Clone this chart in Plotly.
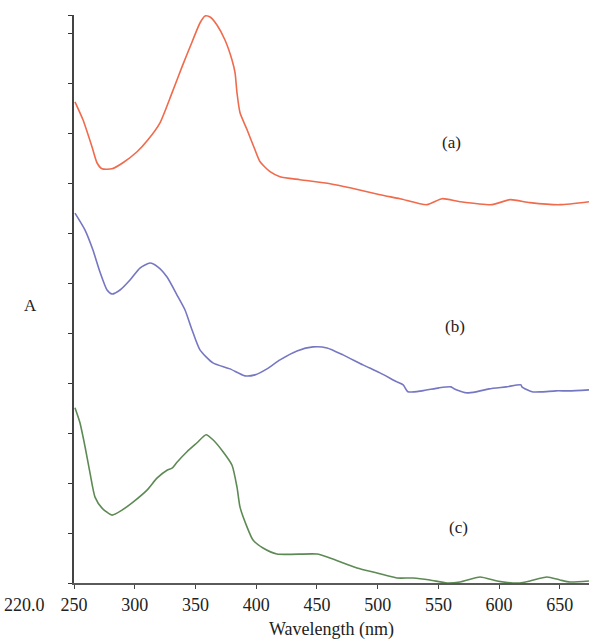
import plotly.graph_objects as go

# Curve (a)
wl_a = [250.8, 257.4, 264.8, 268.9, 273.1, 281.3, 290.3, 301.9, 310.9, 320.8, 330.7, 338.9,
        347.2, 353.7, 357.9, 362.0, 367.7, 374.3, 380.1, 382.6, 384.2, 386.7, 392.5, 399.0,
        403.2, 411.4, 419.6, 436.1, 460.8, 477.2, 501.9, 518.4, 540.6, 553.0, 567.8, 594.1,
        609.0, 625.4, 650.1, 674.0]
abs_a = [0.964, 0.928, 0.874, 0.842, 0.830, 0.830, 0.842, 0.864, 0.888, 0.922, 0.982, 1.034,
         1.084, 1.122, 1.136, 1.134, 1.118, 1.088, 1.048, 1.022, 0.982, 0.942, 0.908, 0.868,
         0.844, 0.824, 0.814, 0.808, 0.800, 0.792, 0.778, 0.770, 0.758, 0.770, 0.764, 0.758,
         0.768, 0.762, 0.758, 0.764]

# Curve (b)
wl_b = [250.8, 259.1, 265.6, 271.4, 277.2, 281.3, 287.9, 296.1, 304.3, 312.6, 319.2, 326.6,
        334.8, 341.4, 347.2, 353.7, 364.4, 378.4, 390.8, 399.0, 408.9, 419.6, 433.6, 446.8,
        458.3, 471.5, 487.9, 501.9, 515.9, 521.0, 525.0, 536.5, 550.5, 560.4, 562.9, 572.7,
        581.0, 591.7, 605.7, 618.0, 618.8, 627.1, 635.3, 646.8, 657.5, 674.0]
abs_b = [0.741, 0.707, 0.667, 0.623, 0.587, 0.579, 0.587, 0.607, 0.631, 0.641, 0.633, 0.613,
         0.577, 0.547, 0.507, 0.467, 0.441, 0.429, 0.415, 0.417, 0.429, 0.447, 0.465, 0.473,
         0.471, 0.457, 0.437, 0.421, 0.403, 0.397, 0.383, 0.385, 0.391, 0.393, 0.389, 0.381,
         0.383, 0.389, 0.393, 0.397, 0.393, 0.383, 0.383, 0.385, 0.385, 0.387]

# Curve (c)
wl_c = [250.8, 254.9, 259.1, 263.2, 267.3, 273.1, 281.3, 289.5, 298.6, 310.1, 318.3, 326.6,
        330.7, 334.8, 343.0, 351.3, 358.7, 364.4, 372.7, 380.1, 384.2, 386.7, 392.5, 397.4,
        405.6, 417.1, 450.1, 460.8, 483.0, 499.5, 515.9, 529.1, 543.1, 557.1, 567.8, 584.3,
        598.3, 611.4, 617.2, 625.4, 639.4, 650.1, 658.4, 674.0]
abs_c = [0.351, 0.321, 0.273, 0.220, 0.172, 0.150, 0.136, 0.146, 0.162, 0.186, 0.210, 0.226,
         0.230, 0.242, 0.263, 0.281, 0.297, 0.287, 0.263, 0.236, 0.192, 0.152, 0.112, 0.086,
         0.070, 0.058, 0.058, 0.050, 0.030, 0.020, 0.010, 0.010, 0.006, 0.000, 0.002, 0.012,
         0.004, 0.000, 0.000, 0.004, 0.012, 0.006, 0.002, 0.004]

x_ticks = [250, 300, 350, 400, 450, 500, 550, 600, 650]
y_ticks = [0.0, 0.1, 0.2, 0.3, 0.4, 0.5, 0.6, 0.7, 0.8, 0.9, 1.0, 1.1, 1.138]
labels = ["(a)", "(b)", "(c)"]
label_wl = [561.2, 563.7, 566.2]
label_abs = [0.882, 0.513, 0.112]

FONT = "Liberation Serif"

fig = go.Figure()
for wl, ab, col in [(wl_a, abs_a, "#F06A4C"), (wl_b, abs_b, "#7677C2"), (wl_c, abs_c, "#5D8A54")]:
    fig.add_trace(go.Scatter(x=wl, y=ab, mode="lines",
                             line=dict(color=col, width=1.6, shape="spline", smoothing=0.6),
                             showlegend=False, hoverinfo="skip"))

for t, xx, yy in zip(labels, label_wl, label_abs):
    fig.add_annotation(x=xx, y=yy, text=t, showarrow=False,
                       font=dict(family=FONT, size=17, color="#222"))

fig.add_annotation(xref="paper", yref="paper", x=-0.097, y=-0.0387, text="220.0",
                   showarrow=False, xanchor="center", yanchor="middle",
                   font=dict(family=FONT, size=18, color="#222"))
fig.add_annotation(xref="paper", yref="paper", x=-0.085, y=0.488, text="A",
                   showarrow=False, xanchor="center", yanchor="middle",
                   font=dict(family=FONT, size=17, color="#222"))

fig.update_layout(
    width=589, height=640,
    margin=dict(l=74, r=0, t=15, b=57, autoexpand=False),
    plot_bgcolor="white", paper_bgcolor="white",
    font=dict(family=FONT, size=18, color="#222"),
    xaxis=dict(range=[250, 674], tickvals=x_ticks, ticktext=[str(v) for v in x_ticks],
               showgrid=False, zeroline=False, showline=True, linecolor="#5a5a5a",
               linewidth=2, ticks="outside", ticklen=4, tickcolor="#444",
               tickfont=dict(family=FONT, size=18),
               title=dict(text="Wavelength (nm)", standoff=9,
                          font=dict(family=FONT, size=18))),
    yaxis=dict(range=[0, 1.138], tickvals=y_ticks, showticklabels=False,
               showgrid=False, zeroline=False, showline=True, linecolor="#444",
               linewidth=1.6, ticks="outside", ticklen=4, tickcolor="#333"),
)

fig.write_html("out.html", config={"displayModeBar": False},
               post_script="document.body.style.margin='0';document.body.style.overflow='hidden';")
